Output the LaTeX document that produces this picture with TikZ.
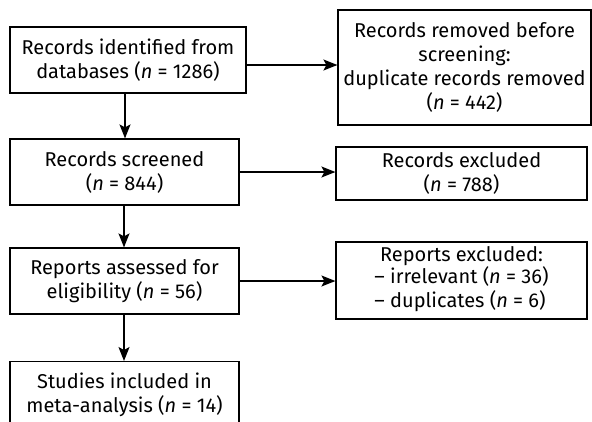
\documentclass[tikz,border=0pt]{standalone}
\usepackage{fontspec}
\setmainfont{Fira Sans}
\usetikzlibrary{arrows.meta}
\begin{document}
\begin{tikzpicture}[x=1pt,y=-1pt,
  box/.style={draw, line width=1.2pt, inner sep=0pt, align=center, font=\fontsize{20}{24}\selectfont},
  arr/.style={-{Stealth[length=14pt,width=11pt,inset=3pt]}, line width=1.2pt}]
\clip (0,0) rectangle (592,421);
\useasboundingbox (0,0) rectangle (592,421);
\node[box, minimum width=236pt, minimum height=66pt] (a) at (128,60) {Records identified from\\databases (\textit{n} = 1286)};
\node[box, minimum width=229pt, minimum height=66pt] (b) at (124.5,172) {Records screened\\(\textit{n} = 844)};
\node[box, minimum width=229pt, minimum height=66pt] (c) at (124.5,281) {Reports assessed for\\eligibility (\textit{n} = 56)};
\node[box, minimum width=229pt, minimum height=66pt, anchor=north] (d) at (124.5,361) {Studies included in\\meta-analysis (\textit{n} = 14)};
\node[box, minimum width=253pt, minimum height=115pt] (r1) at (464.5,67.5) {Records removed before\\screening:\\duplicate records removed\\(\textit{n} = 442)};
\node[box, minimum width=251pt, minimum height=53pt] (r2) at (461.5,173.5) {Records excluded\\(\textit{n} = 788)};
\node[box, minimum width=251pt, minimum height=77pt] (r3) at (461.5,280.5) {Reports excluded:\\\begin{tabular}{@{}l@{}}– irrelevant (\textit{n} = 36)\\– duplicates (\textit{n} = 6)\end{tabular}};
\draw[arr] (a.south -| 125,0) -- (b.north -| 125,0);
\draw[arr] (b.south -| 124,0) -- (c.north -| 124,0);
\draw[arr] (c.south -| 124,0) -- (d.north -| 124,0);
\draw[arr] (a.east |- 0,65) -- (r1.west |- 0,65);
\draw[arr] (b) -- (r2.west |- b);
\draw[arr] (c) -- (r3.west |- c);
\end{tikzpicture}
\end{document}
